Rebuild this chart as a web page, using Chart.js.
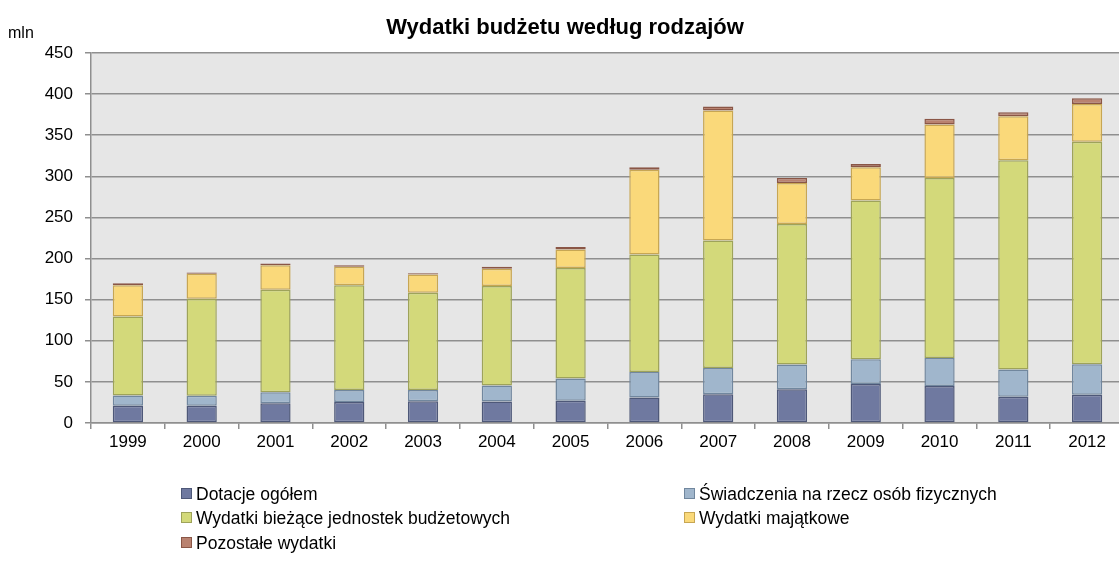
<!DOCTYPE html>
<html lang="pl">
<head>
    <meta charset="UTF-8">
    <title>Wydatki budżetu według rodzajów</title>
    <script src="https://cdn.jsdelivr.net/npm/chart.js"></script>
    <style>
        html, body { margin: 0; padding: 0; background: #fff; overflow: hidden; }
        body { font-family: "Liberation Sans", Arial, sans-serif; }
        #wrap { position: relative; width: 1125px; height: 568px; }
        #legend { position: absolute; left: 0; top: 0; width: 1119px; height: 568px; pointer-events: none; }
        #legend .item { position: absolute; font-size: 17.5px; line-height: 20px; white-space: nowrap; color: #000; }
        #legend .box { display: inline-block; width: 9px; height: 9px; margin-right: 4px; vertical-align: 1px; border: 1px solid; }
    </style>
</head>
<body>
    <div id="wrap">
        <canvas id="budget"></canvas>
        <div id="legend"></div>
    </div>
    <script>
        // Data (mln)
        const years = ['1999', '2000', '2001', '2002', '2003', '2004', '2005', '2006', '2007', '2008', '2009', '2010', '2011', '2012'];
        const dotacje      = [21, 21, 24, 25.5, 26.5, 26, 27, 31, 35, 41, 47.5, 45, 32, 34.5];
        const swiadczenia  = [12.5, 12, 13.5, 14.5, 13.5, 19.5, 27, 31, 32, 30, 30, 34, 33, 37];
        const biezace      = [96, 118, 124.5, 127.5, 118.5, 121, 134.5, 143, 155, 171, 193, 219, 254.5, 270.5];
        const majatkowe    = [38, 30.5, 30, 22.5, 22, 21, 22.5, 103, 158, 50, 40.5, 65, 53.5, 46];
        const pozostale    = [2.5, 1.5, 2, 2, 1.5, 2.5, 3, 3, 5, 6, 4, 7, 5, 7];
        const yTicks = [0, 50, 100, 150, 200, 250, 300, 350, 400, 450];

        const seriesNames = ['Dotacje ogółem', 'Świadczenia na rzecz osób fizycznych',
            'Wydatki bieżące jednostek budżetowych', 'Wydatki majątkowe', 'Pozostałe wydatki'];
        const fills   = ['#6f79a0', '#a0b6cc', '#d3d97a', '#fad97a', '#b98270'];
        const borders = ['#4e5878', '#71879e', '#9ea35a', '#c7a653', '#8a5646'];
        const values  = [dotacje, swiadczenia, biezace, majatkowe, pozostale];

        const datasets = values.map((v, i) => ({
            label: seriesNames[i],
            data: v,
            backgroundColor: fills[i],
            borderColor: borders[i],
            borderWidth: 1.5,
            borderSkipped: false,
            categoryPercentage: 1,
            barPercentage: 0.41
        }));

        // plot background, title and unit label
        const decor = {
            id: 'decor',
            beforeDraw(chart) {
                const { ctx, chartArea: a } = chart;
                ctx.save();
                ctx.fillStyle = '#e6e6e6';
                ctx.fillRect(a.left, a.top, a.right - a.left, a.bottom - a.top);
                ctx.restore();
            },
            afterDraw(chart) {
                const ctx = chart.ctx;
                ctx.save();
                ctx.fillStyle = '#000';
                ctx.textBaseline = 'middle';
                ctx.font = 'bold 22px "Liberation Sans", Arial, sans-serif';
                ctx.textAlign = 'center';
                ctx.fillText('Wydatki budżetu według rodzajów', 565, 28);
                ctx.font = '16px "Liberation Sans", Arial, sans-serif';
                ctx.textAlign = 'left';
                ctx.fillText('mln', 8, 34);
                ctx.restore();
            }
        };

        const gridColor = '#8f8f8f';
        const tickFont = { size: 17, family: '"Liberation Sans", Arial, sans-serif' };
        const chart = new Chart(document.getElementById('budget'), {
            type: 'bar',
            data: { labels: years, datasets: datasets },
            plugins: [decor],
            options: {
                responsive: true,
                maintainAspectRatio: false,
                animation: false,
                layout: { padding: { left: 0, top: 53, right: 1, bottom: 115 } },
                plugins: {
                    legend: { display: false },
                    title: { display: false },
                    tooltip: { enabled: false }
                },
                scales: {
                    x: {
                        stacked: true,
                        afterFit(s) { s.height = 30; },
                        grid: { display: true, drawOnChartArea: false, offset: true, color: gridColor, lineWidth: 1.5, tickLength: 6 },
                        border: { display: true, color: gridColor, width: 1.5 },
                        ticks: { color: '#000', font: tickFont, padding: 3 }
                    },
                    y: {
                        stacked: true,
                        min: 0,
                        max: 450,
                        afterFit(s) { s.width = 91; },
                        afterBuildTicks(s) { s.ticks = yTicks.map(v => ({ value: v })); },
                        grid: { color: gridColor, lineWidth: 1.5, tickLength: 6 },
                        border: { display: true, color: gridColor, width: 1.5 },
                        ticks: { color: '#000', font: tickFont, padding: 12 }
                    }
                }
            }
        });

        // legend in two columns like the original
        const legendPos = [[181, 484], [684, 484], [181, 508], [684, 508], [181, 533]];
        const legend = document.getElementById('legend');
        seriesNames.forEach((name, k) => {
            const el = document.createElement('div');
            el.className = 'item';
            el.style.left = legendPos[k][0] + 'px';
            el.style.top = legendPos[k][1] + 'px';
            el.innerHTML = '<span class="box" style="background:' + fills[k] + ';border-color:' + borders[k] + '"></span>' + name;
            legend.appendChild(el);
        });
    </script>
</body>
</html>
